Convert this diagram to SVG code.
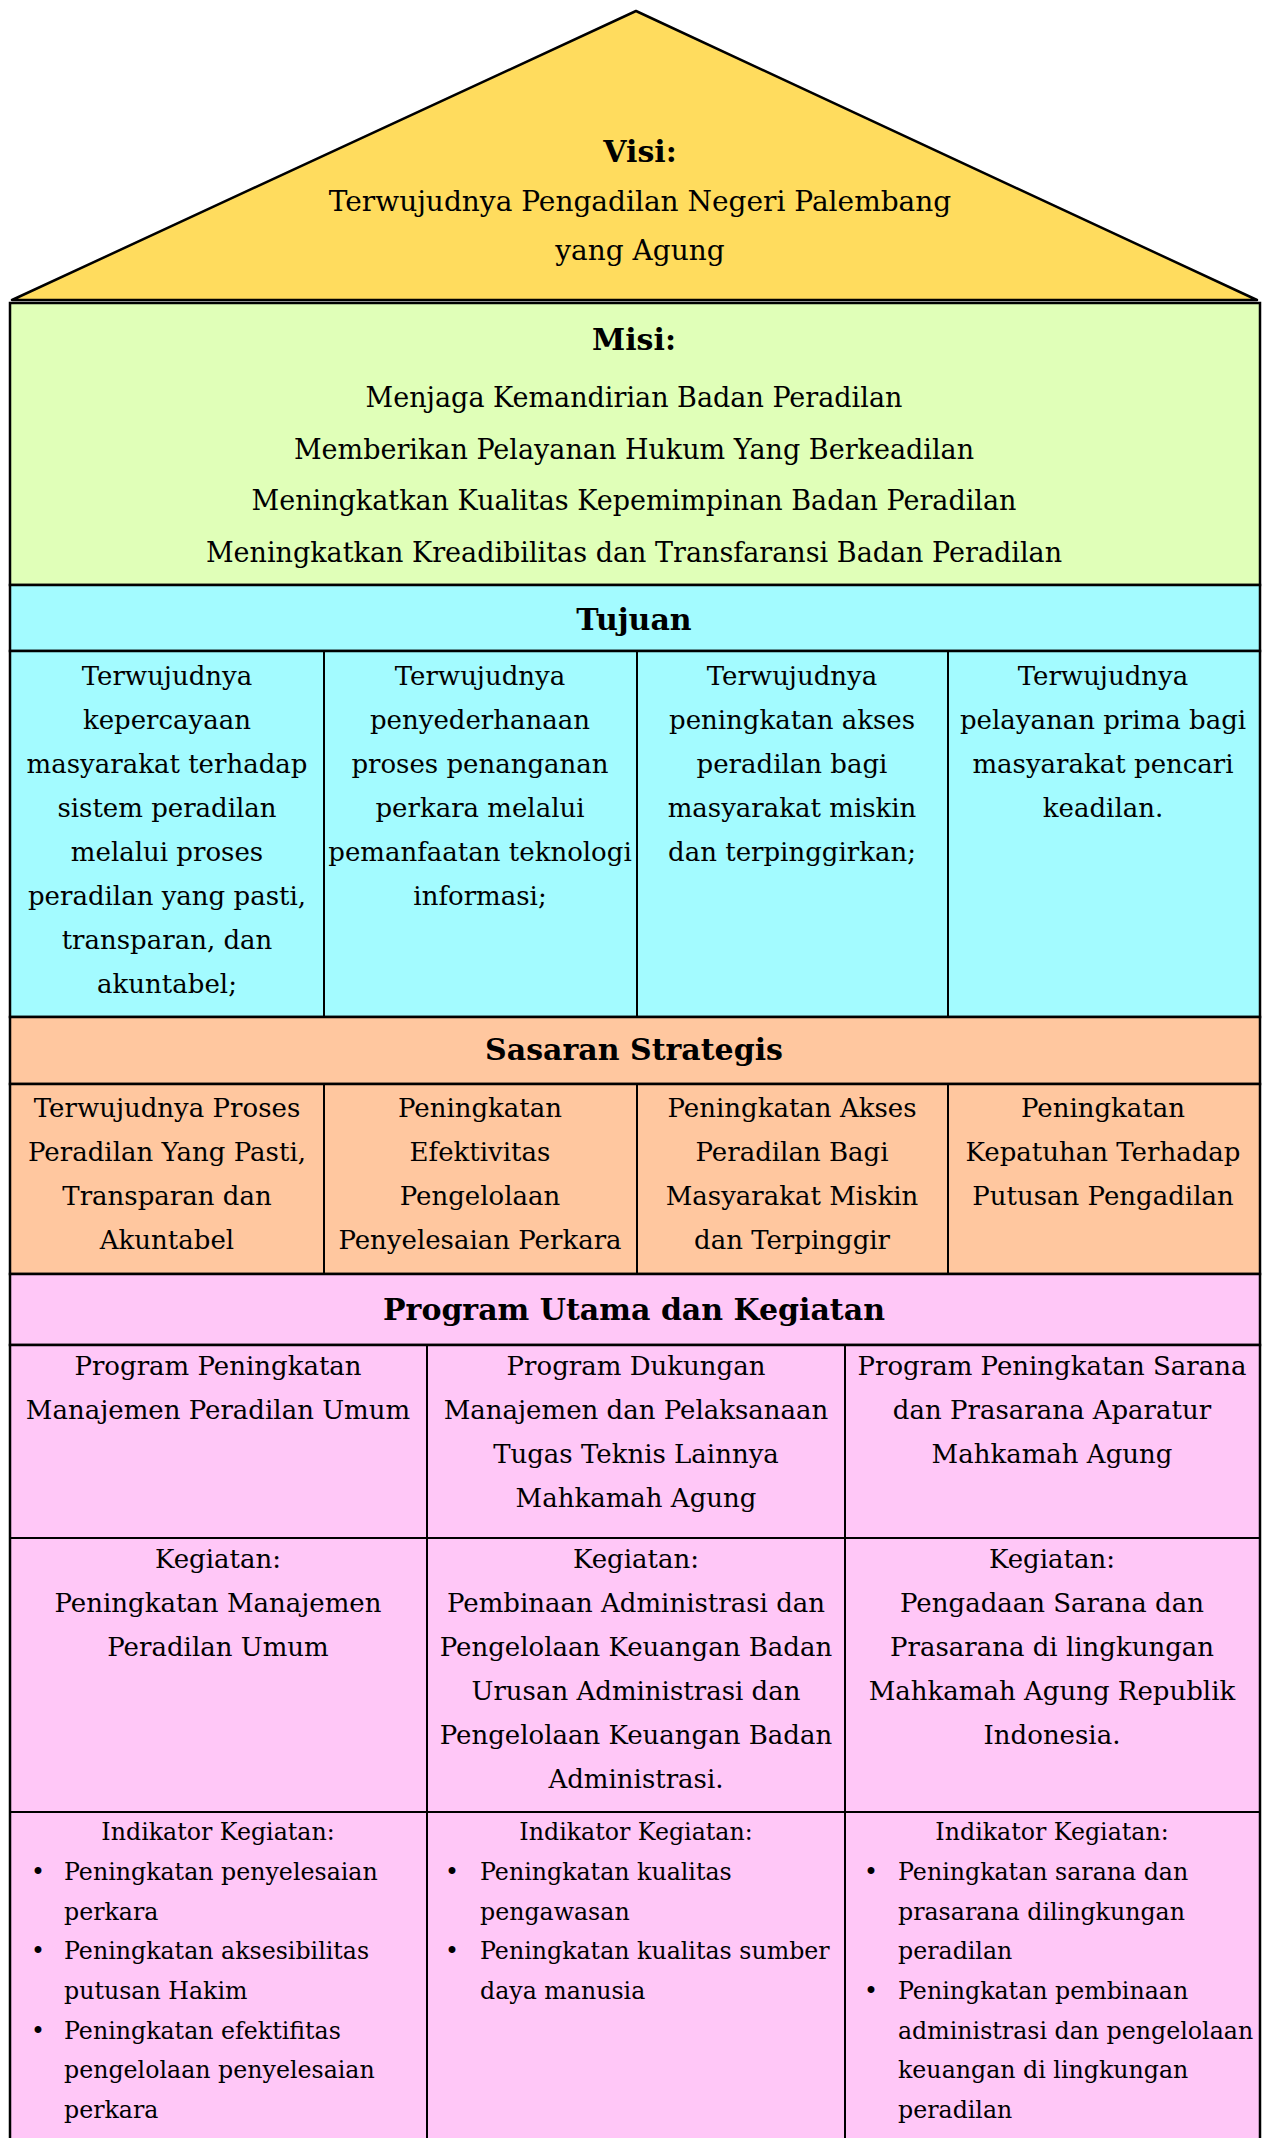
<svg xmlns="http://www.w3.org/2000/svg" width="1263" height="2138" viewBox="0 0 1263 2138">
<style>
text{font-family:"DejaVu Serif","Liberation Serif",serif;fill:#000}
.c{text-anchor:middle}
.h{font-size:30px;font-weight:bold;text-anchor:middle}
.t{font-size:26px}
.m{font-size:27px}
.v{font-size:28px}
.s{font-size:23.7px}
.ln{stroke:#000;stroke-width:2;fill:none}
.bx{stroke:#000;stroke-width:2.5}
</style>
<rect width="1263" height="2138" fill="#fff"/>
<g id="visi">
<polygon points="636,11 12,300 1257,300" fill="#FFDC5E" stroke="#000" stroke-width="2.5" stroke-linejoin="round"/>
<text class="h c" x="640" y="162">Visi:</text>
<text class="v c" x="640" y="211">Terwujudnya Pengadilan Negeri Palembang</text>
<text class="v c" x="640" y="260">yang Agung</text>
</g>
<g id="misi">
<rect class="bx" x="10" y="303" width="1250" height="282" fill="#E0FFB8"/>
<text class="h c" x="634" y="350">Misi:</text>
<text class="m c" x="634" y="407">Menjaga Kemandirian Badan Peradilan</text>
<text class="m c" x="634" y="459">Memberikan Pelayanan Hukum Yang Berkeadilan</text>
<text class="m c" x="634" y="510">Meningkatkan Kualitas Kepemimpinan Badan Peradilan</text>
<text class="m c" x="634" y="562">Meningkatkan Kreadibilitas dan Transfaransi Badan Peradilan</text>
</g>
<g id="tujuan">
<rect class="bx" x="10" y="585" width="1250" height="66" fill="#A3FBFF"/>
<text class="h c" x="634" y="630">Tujuan</text>
<rect class="bx" x="10" y="651" width="1250" height="366" fill="#A3FBFF"/>
<g class="t c">
<text x="167" y="685">Terwujudnya</text>
<text x="167" y="729">kepercayaan</text>
<text x="167" y="773">masyarakat terhadap</text>
<text x="167" y="817">sistem peradilan</text>
<text x="167" y="861">melalui proses</text>
<text x="167" y="905">peradilan yang pasti,</text>
<text x="167" y="949">transparan, dan</text>
<text x="167" y="993">akuntabel;</text>
<text x="480" y="685">Terwujudnya</text>
<text x="480" y="729">penyederhanaan</text>
<text x="480" y="773">proses penanganan</text>
<text x="480" y="817">perkara melalui</text>
<text x="480" y="861">pemanfaatan teknologi</text>
<text x="480" y="905">informasi;</text>
<text x="792" y="685">Terwujudnya</text>
<text x="792" y="729">peningkatan akses</text>
<text x="792" y="773">peradilan bagi</text>
<text x="792" y="817">masyarakat miskin</text>
<text x="792" y="861">dan terpinggirkan;</text>
<text x="1103" y="685">Terwujudnya</text>
<text x="1103" y="729">pelayanan prima bagi</text>
<text x="1103" y="773">masyarakat pencari</text>
<text x="1103" y="817">keadilan.</text>
</g>
</g>
<g id="sasaran">
<rect class="bx" x="10" y="1017" width="1250" height="67" fill="#FFC79F"/>
<text class="h c" x="634" y="1060">Sasaran Strategis</text>
<rect class="bx" x="10" y="1084" width="1250" height="190" fill="#FFC79F"/>
<g class="t c">
<text x="167" y="1117">Terwujudnya Proses</text>
<text x="167" y="1161">Peradilan Yang Pasti,</text>
<text x="167" y="1205">Transparan dan</text>
<text x="167" y="1249">Akuntabel</text>
<text x="480" y="1117">Peningkatan</text>
<text x="480" y="1161">Efektivitas</text>
<text x="480" y="1205">Pengelolaan</text>
<text x="480" y="1249">Penyelesaian Perkara</text>
<text x="792" y="1117">Peningkatan Akses</text>
<text x="792" y="1161">Peradilan Bagi</text>
<text x="792" y="1205">Masyarakat Miskin</text>
<text x="792" y="1249">dan Terpinggir</text>
<text x="1103" y="1117">Peningkatan</text>
<text x="1103" y="1161">Kepatuhan Terhadap</text>
<text x="1103" y="1205">Putusan Pengadilan</text>
</g>
</g>
<g id="program">
<rect class="bx" x="10" y="1274" width="1250" height="71" fill="#FFC7F7"/>
<text class="h c" x="634" y="1320">Program Utama dan Kegiatan</text>
<rect class="bx" x="10" y="1345" width="1250" height="800" fill="#FFC7F7"/>
<g class="t c">
<text x="218" y="1375">Program Peningkatan</text>
<text x="218" y="1419">Manajemen Peradilan Umum</text>
<text x="636" y="1375">Program Dukungan</text>
<text x="636" y="1419">Manajemen dan Pelaksanaan</text>
<text x="636" y="1463">Tugas Teknis Lainnya</text>
<text x="636" y="1507">Mahkamah Agung</text>
<text x="1052" y="1375">Program Peningkatan Sarana</text>
<text x="1052" y="1419">dan Prasarana Aparatur</text>
<text x="1052" y="1463">Mahkamah Agung</text>
<text x="218" y="1568">Kegiatan:</text>
<text x="218" y="1612">Peningkatan Manajemen</text>
<text x="218" y="1656">Peradilan Umum</text>
<text x="636" y="1568">Kegiatan:</text>
<text x="636" y="1612">Pembinaan Administrasi dan</text>
<text x="636" y="1656">Pengelolaan Keuangan Badan</text>
<text x="636" y="1700">Urusan Administrasi dan</text>
<text x="636" y="1744">Pengelolaan Keuangan Badan</text>
<text x="636" y="1788">Administrasi.</text>
<text x="1052" y="1568">Kegiatan:</text>
<text x="1052" y="1612">Pengadaan Sarana dan</text>
<text x="1052" y="1656">Prasarana di lingkungan</text>
<text x="1052" y="1700">Mahkamah Agung Republik</text>
<text x="1052" y="1744">Indonesia.</text>
</g>
<g class="s">
<text class="c" x="218" y="1840">Indikator Kegiatan:</text>
<text class="c" x="636" y="1840">Indikator Kegiatan:</text>
<text class="c" x="1052" y="1840">Indikator Kegiatan:</text>
<text x="31" y="1880">•</text><text x="64" y="1880">Peningkatan penyelesaian</text>
<text x="64" y="1920">perkara</text>
<text x="31" y="1959">•</text><text x="64" y="1959">Peningkatan aksesibilitas</text>
<text x="64" y="1999">putusan Hakim</text>
<text x="31" y="2039">•</text><text x="64" y="2039">Peningkatan efektifitas</text>
<text x="64" y="2078">pengelolaan penyelesaian</text>
<text x="64" y="2118">perkara</text>
<text x="445" y="1880">•</text><text x="480" y="1880">Peningkatan kualitas</text>
<text x="480" y="1920">pengawasan</text>
<text x="445" y="1959">•</text><text x="480" y="1959">Peningkatan kualitas sumber</text>
<text x="480" y="1999">daya manusia</text>
<text x="864" y="1880">•</text><text x="898" y="1880">Peningkatan sarana dan</text>
<text x="898" y="1920">prasarana dilingkungan</text>
<text x="898" y="1959">peradilan</text>
<text x="864" y="1999">•</text><text x="898" y="1999">Peningkatan pembinaan</text>
<text x="898" y="2039">administrasi dan pengelolaan</text>
<text x="898" y="2078">keuangan di lingkungan</text>
<text x="898" y="2118">peradilan</text>
</g>
</g>
<g id="connectors">
<path class="ln" d="M324,651V1017M637,651V1017M948,651V1017"/>
<path class="ln" d="M324,1084V1274M637,1084V1274M948,1084V1274"/>
<path class="ln" d="M427,1345V2138M845,1345V2138"/>
<path class="ln" d="M10,1538H1260M10,1812H1260" stroke-width="2.5"/>
</g>
</svg>
